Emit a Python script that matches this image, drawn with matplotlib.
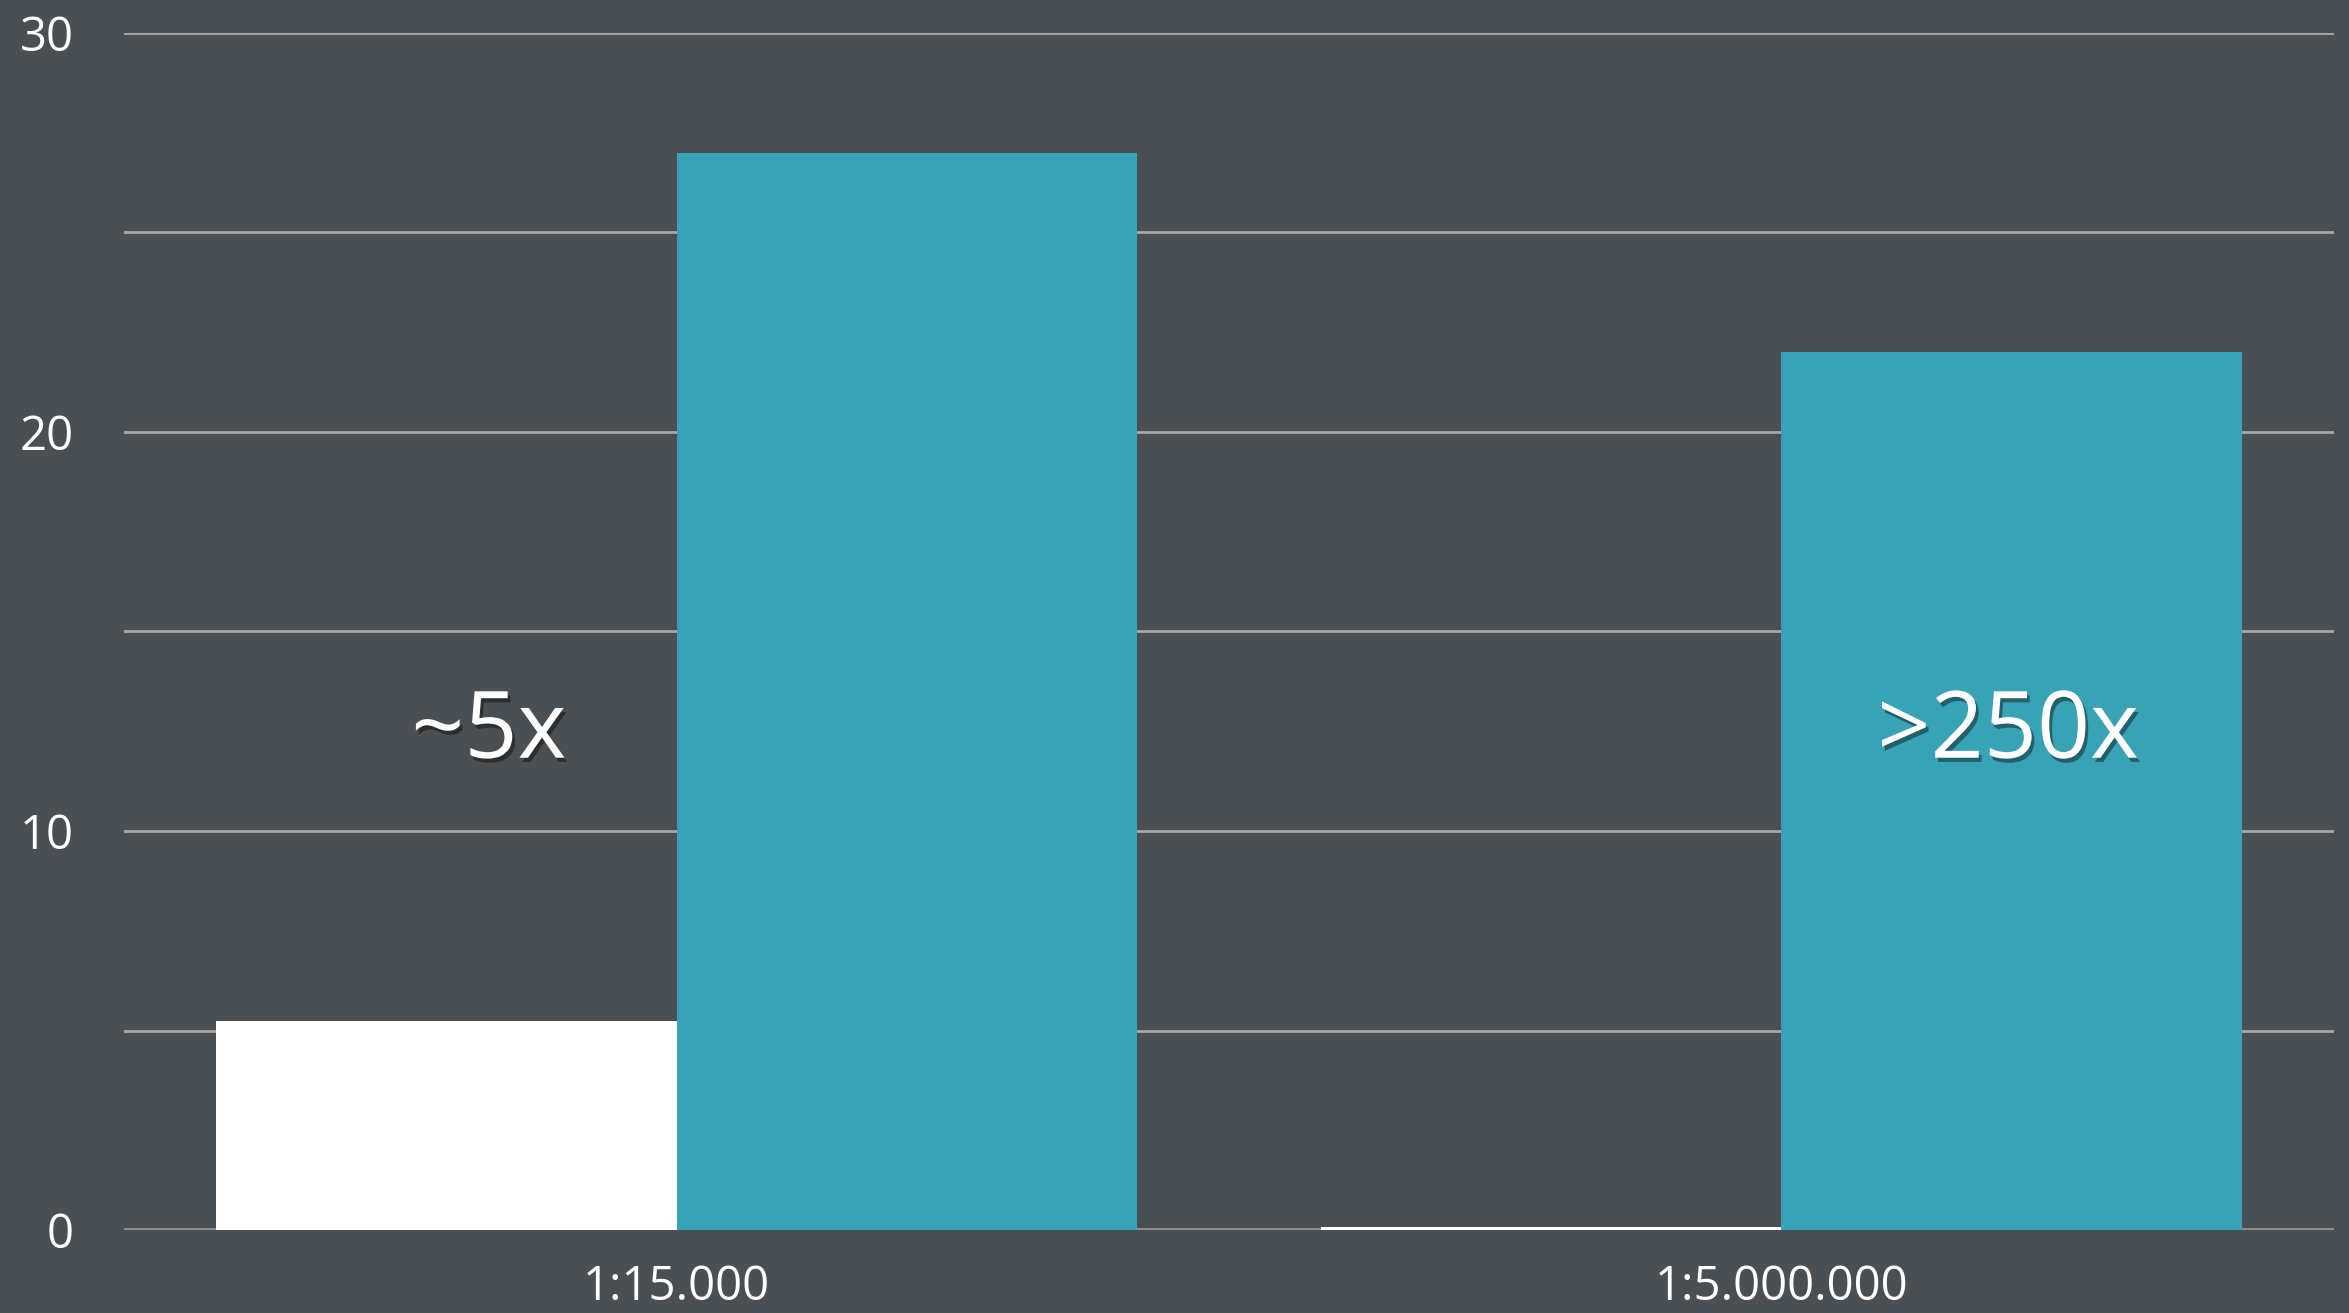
import matplotlib
matplotlib.use("Agg")
import matplotlib.pyplot as plt
import matplotlib.patheffects as pe
import numpy as np

# data
categories = ['1:15.000', '1:5.000.000']
white_vals = [5.25, 0.08]
teal_vals = [27, 22]
notes = ['~5x', '>250x']
note_x = [-0.17, 1.205]
note_y = [12.45, 12.45]

bg = '#4a4f54'
teal = '#38a3b5'

plt.rcParams['font.family'] = ['Open Sans', 'DejaVu Sans']

fig = plt.figure(figsize=(23.49, 13.13), dpi=100)
fig.patch.set_facecolor(bg)
ax = fig.add_axes([0.0528, 0.0632, 0.9408, 0.9117])
ax.set_facecolor(bg)

x = np.arange(len(categories))
w = 0.417

# grid lines
for yv in range(0, 31, 5):
    ax.axhline(yv, color='#a6a8aa' if yv else '#8e9092', lw=2 if yv else 3.5, zorder=1)

shadow = [pe.SimplePatchShadow(offset=(0, -4), shadow_rgbFace='#1e2225', alpha=0.45), pe.Normal()]
b1 = ax.bar(x - w / 2, white_vals, w, color='white', zorder=3)
b2 = ax.bar(x + w / 2, teal_vals, w, color=teal, zorder=3)
for b in list(b1) + list(b2):
    b.set_path_effects(shadow)

for t, xx, yy in zip(notes, note_x, note_y):
    ax.text(xx, yy, t, color='white', fontsize=67, ha='center', va='center', zorder=5,
            path_effects=[pe.withSimplePatchShadow(offset=(2, -3), shadow_rgbFace='black', alpha=0.4)])

ax.set_xlim(-0.5, 1.5)
ax.set_ylim(0, 30)
ax.set_yticks([0, 10, 20, 30])
ax.set_xticks(x)
ax.set_xticklabels(categories)
ax.tick_params(axis='y', length=0, pad=36, labelsize=34, labelcolor='white')
ax.tick_params(axis='x', length=0, pad=24, labelsize=34, labelcolor='white')
for s in ax.spines.values():
    s.set_visible(False)

fig.savefig('out.png', dpi=100, facecolor=bg)
